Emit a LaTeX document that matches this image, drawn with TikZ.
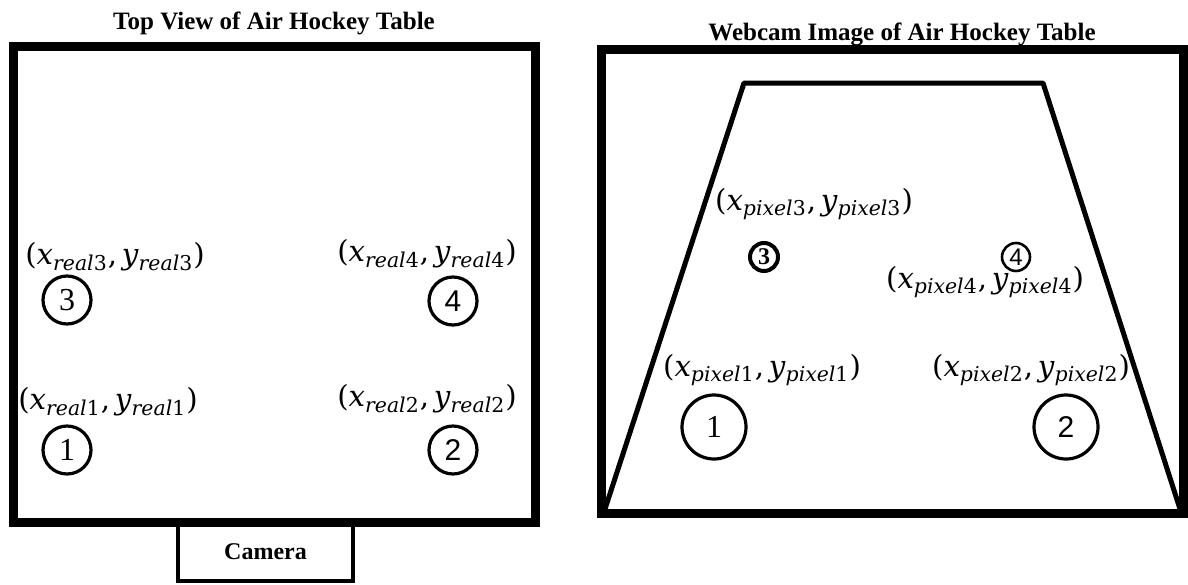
\documentclass[tikz,border=0pt]{standalone}
\usepackage{fontspec}
\setmainfont{Liberation Serif}
\newfontfamily\lblfont{DejaVu Serif}
\newfontfamily\numsans{Liberation Sans}
\newcommand{\puckpos}[2]{(\textit{x}\textsubscript{\textit{#1}#2},\,\textit{y}\textsubscript{\textit{#1}#2})}

\begin{document}
\begin{tikzpicture}[
    x=0.5pt, y=-0.5pt,
    frame/.style    = {draw, line width=4.5pt, inner sep=0pt},
    heading/.style  = {font=\fontsize{12.5}{15}\selectfont\bfseries, inner sep=0pt},
    coordlbl/.style = {font=\lblfont\fontsize{14.6}{17}\selectfont, inner sep=0pt},
    puck/.style     = {circle, draw, line width=1.6pt, minimum size=24pt, inner sep=0pt,
                       font=\fontsize{16}{18}\selectfont},
    sanspuck/.style = {font=\numsans\fontsize{15}{18}\selectfont},
    bigpuck/.style  = {puck, minimum size=32pt},
    smallpuck/.style = {circle, draw, line width=2pt, minimum size=14pt, inner sep=0pt,
                       font=\fontsize{12}{14}\selectfont\bfseries},
    rink/.style     = {line width=2.5pt, line join=round},
]
\useasboundingbox (0,0) rectangle (1188,584);

% ---------------- top view ----------------
\node[heading] (toptitle) at (274,23) {Top View of Air Hockey Table};
\node[frame, line width=2pt, minimum width=87.5pt, minimum height=29.5pt,
      font=\fontsize{12}{14}\selectfont\bfseries] (camera) at (265.5,551.5) {Camera};
\node[frame, minimum width=261pt, minimum height=238pt] (topview) at (274,284) {};

\node[coordlbl] (real3) at (115,257) {\puckpos{real}{3}};
\node[puck] (p3) at (67,300) {3};
\node[coordlbl] (real4) at (427,254) {\puckpos{real}{4}};
\node[puck, sanspuck] (p4) at (453,301) {4};
\node[coordlbl] (real1) at (108,402) {\puckpos{real}{1}};
\node[puck] (p1) at (67,450) {1};
\node[coordlbl] (real2) at (427,399) {\puckpos{real}{2}};
\node[puck, sanspuck] (p2) at (453,450) {2};

% ---------------- webcam image ----------------
\node[heading] (camtitle) at (902,34) {Webcam Image of Air Hockey Table};
\node[frame, minimum width=291pt, minimum height=232pt] (webcam) at (892,281) {};
\coordinate (farL) at (744,83);
\coordinate (farR) at (1043,83);
\coordinate (nearL) at (605,509);
\coordinate (nearR) at (1180,509);
\draw[rink] (nearL) -- (farL) -- (farR) -- (nearR);

\node[coordlbl] (pix3) at (814,204) {\puckpos{pixel}{3}};
\node[smallpuck] (q3) at (764,257) {3};
\node[smallpuck, line width=1.3pt, font=\numsans\fontsize{12}{14}\selectfont] (q4) at (1016,257) {4};
\node[coordlbl] (pix4) at (985,282) {\puckpos{pixel}{4}};
\node[coordlbl] (pix1) at (762,370) {\puckpos{pixel}{1}};
\node[coordlbl] (pix2) at (1031,370) {\puckpos{pixel}{2}};
\node[bigpuck] (q1) at (714,427) {1};
\node[bigpuck, sanspuck] (q2) at (1066,427) {2};

\end{tikzpicture}
\end{document}
